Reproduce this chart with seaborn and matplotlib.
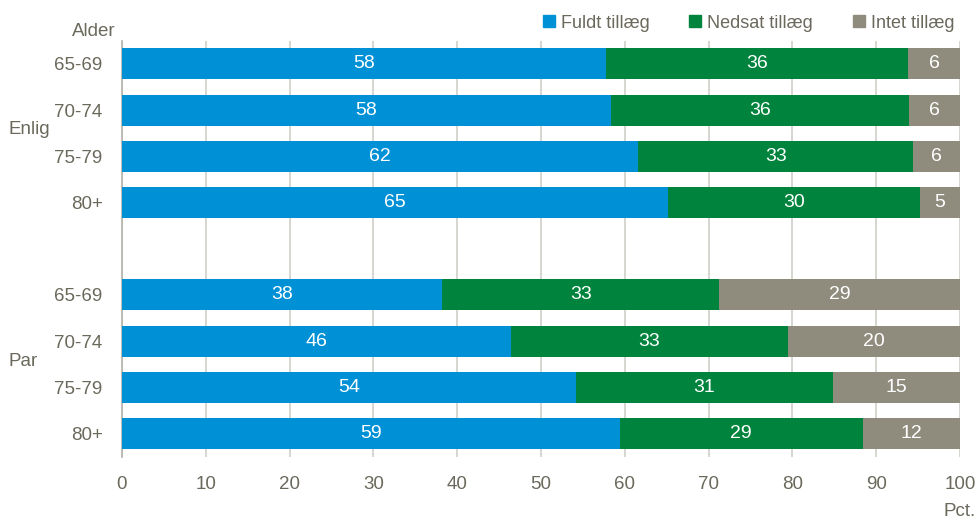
import matplotlib
matplotlib.use("Agg")
import matplotlib.pyplot as plt
import seaborn as sns
import pandas as pd
import numpy as np
from matplotlib.lines import Line2D

# ---- data ----
groups = ["Enlig", "Enlig", "Enlig", "Enlig", "Par", "Par", "Par", "Par"]
ages = ["65-69", "70-74", "75-79", "80+", "65-69", "70-74", "75-79", "80+"]
fuldt = [57.8, 58.3, 61.6, 65.1, 38.2, 46.4, 54.2, 59.4]
nedsat = [36.0, 35.6, 32.8, 30.1, 33.1, 33.1, 30.6, 29.0]
intet = [6.2, 6.1, 5.6, 4.8, 28.7, 20.5, 15.2, 11.6]
series_names = ["Fuldt tillæg", "Nedsat tillæg", "Intet tillæg"]
xticks = [0, 10, 20, 30, 40, 50, 60, 70, 80, 90, 100]

colors = ["#0090d5", "#00843d", "#8f8c7e"]
text_col = "#6b695c"

sns.set_theme(style="white")
plt.rcParams["font.family"] = ["Liberation Sans Narrow", "Liberation Sans", "DejaVu Sans"]

# positions: gap between groups
pos = [0, 1, 2, 3, 5, 6, 7, 8]
df = pd.DataFrame({"pos": pos, "age": ages, "group": groups,
                   "f": fuldt, "n": nedsat, "i": intet})
df["c1"] = df["f"]
df["c2"] = df["f"] + df["n"]
df["c3"] = df["f"] + df["n"] + df["i"]

fig = plt.figure(figsize=(9.79, 5.23), dpi=100)
ax = fig.add_axes([0.1246, 0.1268, 0.8560, 0.7954])

for col, c in zip(["c3", "c2", "c1"], colors[::-1]):
    sns.barplot(data=df, x=col, y="pos", orient="h", native_scale=True,
                color=c, width=0.67, ax=ax, saturation=1, linewidth=0, zorder=3)

fs = 13.5
# value labels
for _, r in df.iterrows():
    starts = [0, r["c1"], r["c2"]]
    vals = [r["f"], r["n"], r["i"]]
    for s, v in zip(starts, vals):
        ax.text(s + v / 2, r["pos"], f"{v:.0f}", ha="center", va="center",
                color="white", fontsize=14, zorder=5)

ax.set_xlim(0, 100)
ax.set_ylim(8.5, -0.5)
ax.set_xticks(xticks)
ax.set_xticklabels([str(t) for t in xticks], fontsize=fs, color=text_col)
ax.set_yticks(pos)
ax.set_yticklabels(ages, fontsize=fs, color=text_col)
ax.tick_params(axis="x", length=0, pad=14)
ax.tick_params(axis="y", length=0, pad=14)
ax.set_xlabel("")
ax.set_ylabel("")
ax.xaxis.grid(True, color="#d0cfca", linewidth=1.2, zorder=0)
ax.yaxis.grid(False)
ax.set_axisbelow(True)
for s in ["top", "right", "bottom"]:
    ax.spines[s].set_visible(False)
ax.spines["left"].set_color("#b5b3a8")
ax.spines["left"].set_linewidth(1.2)

# group labels and headers
fig.text(9 / 979, 1 - 130 / 523, "Enlig", fontsize=fs, color=text_col, va="center", ha="left")
fig.text(9 / 979, 1 - 362 / 523, "Par", fontsize=fs, color=text_col, va="center", ha="left")
fig.text(116 / 979, 1 - 32 / 523, "Alder", fontsize=fs, color=text_col, va="center", ha="right")
fig.text(976 / 979, 1 - 512 / 523, "Pct.", fontsize=fs, color=text_col, va="center", ha="right")

handles = [Line2D([0], [0], marker="s", linestyle="", markersize=8,
                  markerfacecolor=c, markeredgecolor=c) for c in colors]
leg = fig.legend(handles, series_names, loc="center right", ncol=3,
                 bbox_to_anchor=(0.982, 1 - 23 / 523), frameon=False,
                 fontsize=13, handletextpad=0.3, columnspacing=2.2,
                 handlelength=0.7, borderaxespad=0)
for t in leg.get_texts():
    t.set_color(text_col)

fig.savefig("out.png", dpi=100)
